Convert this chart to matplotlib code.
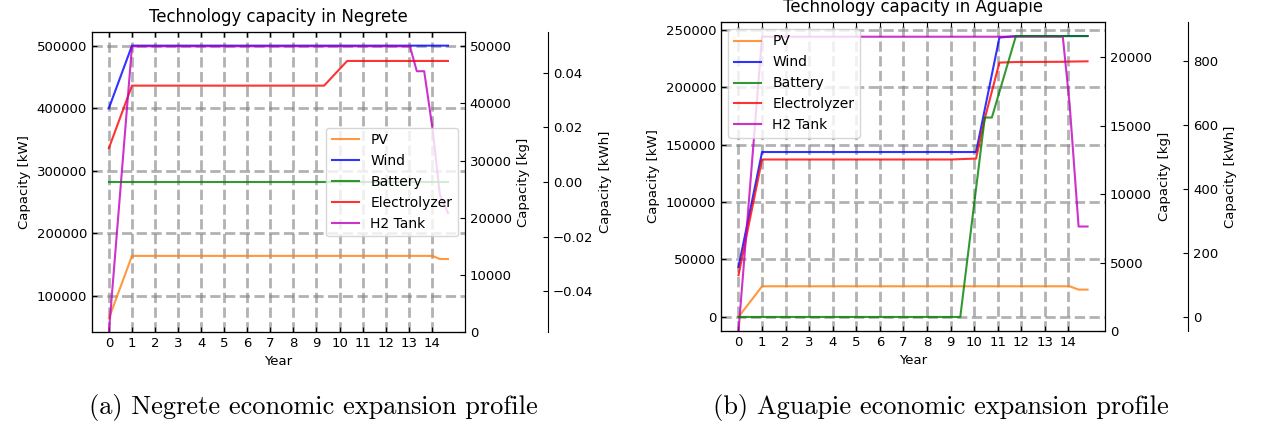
import numpy as np
import matplotlib.pyplot as plt

plt.rcParams['xtick.direction'] = 'in'
plt.rcParams['ytick.direction'] = 'in'
plt.rcParams['xtick.top'] = True
plt.rcParams['font.size'] = 9.5

techs = ["PV", "Wind", "Battery", "Electrolyzer", "H2 Tank"]
colors = ["tab:orange", "b", "g", "r", "m"]
years = list(range(15))

# Negrete
neg_x = [0, 1, 9.33, 10.33, 13.05, 13.35, 13.67, 14.03, 14.35, 14.7]
neg_pv = [63500, 163500, 163500, 163500, 163500, 163500, 163500, 163500, 158500, 158500]
neg_wind = [400000, 500000, 500000, 500000, 500000, 500000, 500000, 500000, 500000, 500000]
neg_batt = [0, 0, 0, 0, 0, 0, 0, 0, 0, 0]
neg_elec = [336000, 436000, 436000, 475500, 475500, 475500, 475500, 475500, 475500, 475500]
neg_h2 = [0, 50000, 50000, 50000, 50000, 45640, 45640, 35600, 24000, 20860]

# Aguapie
agu_x = [0, 1, 9.05, 9.41, 10.08, 10.45, 10.75, 11.07, 11.77, 13.76, 14.05, 14.43, 14.81]
agu_pv = [0, 26700, 26700, 26700, 26700, 26700, 26700, 26700, 26700, 26700, 26700, 23800, 23800]
agu_wind = [43500, 143500, 143500, 143500, 143500, 180700, 210900, 243100, 244400, 244400, 244400, 244400, 244400]
agu_batt = [0, 0, 0, 0, 402, 624, 624, 704, 879, 879, 879, 879, 879]
agu_elec = [36300, 137000, 137000, 137300, 137800, 172600, 196200, 221300, 221800, 222000, 222200, 222300, 222400]
agu_h2 = [0, 21486, 21486, 21486, 21486, 21486, 21486, 21486, 21486, 21486, 16540, 7630, 7630]


def plot_site(fig, rect, site, x, pv, wind, batt, elec, h2, loc):
    ax1 = fig.add_axes(rect)
    ax2 = ax1.twinx()
    ax3 = ax1.twinx()
    ax3.spines["right"].set_position(("outward", 60))

    lines = []
    lines += ax1.plot(x, pv, color=colors[0], alpha=0.8, label=techs[0])
    lines += ax1.plot(x, wind, color=colors[1], alpha=0.8, label=techs[1])
    lines += ax3.plot(x, batt, color=colors[2], alpha=0.8, label=techs[2])
    lines += ax1.plot(x, elec, color=colors[3], alpha=0.8, label=techs[3])
    lines += ax2.plot(x, h2, color=colors[4], alpha=0.8, label=techs[4])

    ax2.set_ylim(bottom=0)
    ax1.set_xticks(years)
    ax1.grid(True, linestyle="--", linewidth=2, color="grey", alpha=0.6)
    ax1.set_title("Technology capacity in " + site, fontsize=11.9, pad=7)
    ax1.set_xlabel("Year")
    ax1.set_ylabel("Capacity [kW]")
    ax2.set_ylabel("Capacity [kg]")
    ax3.set_ylabel("Capacity [kWh]")
    ax3.legend(lines, [l.get_label() for l in lines], loc=loc, fontsize=10)


fig = plt.figure(figsize=(12.63, 4.28), dpi=100)
plot_site(fig, [0.0728, 0.2243, 0.2953, 0.7009], "Negrete",
          neg_x, neg_pv, neg_wind, neg_batt, neg_elec, neg_h2, "center right")
plot_site(fig, [0.5709, 0.2266, 0.3040, 0.7220], "Aguapie",
          agu_x, agu_pv, agu_wind, agu_batt, agu_elec, agu_h2, "upper left")

fig.text(0.248, 0.047, "(a) Negrete economic expansion profile",
         family="cmr10", size=19, ha="center", va="center")
fig.text(0.745, 0.047, "(b) Aguapie economic expansion profile",
         family="cmr10", size=19, ha="center", va="center")

fig.savefig("out.png", dpi=100)
